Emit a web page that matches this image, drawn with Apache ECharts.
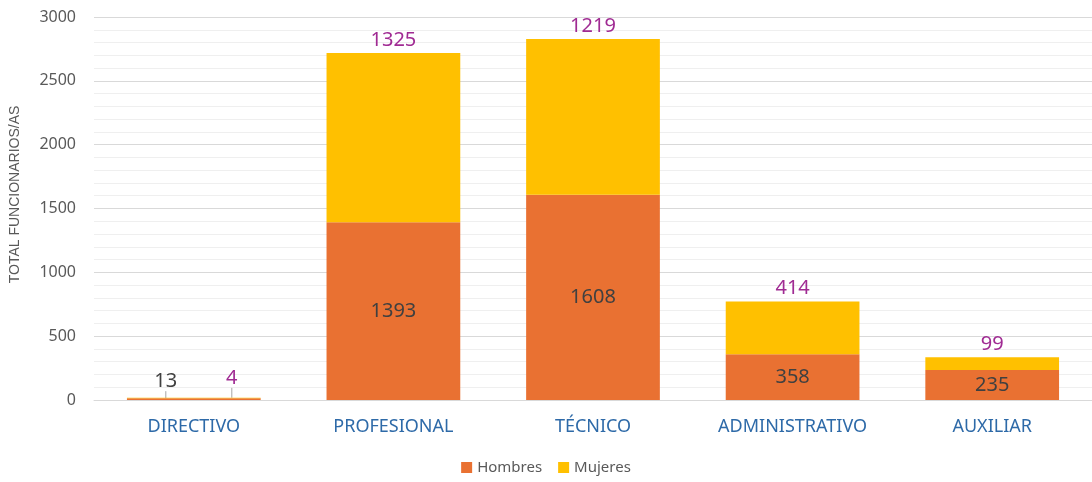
<!DOCTYPE html>
<html>
<head>
<meta charset="utf-8">
<script src="https://cdn.jsdelivr.net/npm/echarts@6/dist/echarts.min.js"></script>
<style>
  html, body { margin: 0; padding: 0; background: #fff; }
  #main { width: 1092px; height: 482px; }
</style>
</head>
<body>
<div id="main"></div>
<script>
const categories = ['DIRECTIVO', 'PROFESIONAL', 'TÉCNICO', 'ADMINISTRATIVO', 'AUXILIAR'];
const hombres = [13, 1393, 1608, 358, 235];
const mujeres = [4, 1325, 1219, 414, 99];
const yTicks = { min: 0, max: 3000, interval: 500 };

const font = '"Noto Sans", sans-serif';
const guide = { show: true, lineStyle: { color: '#a6a6a6', width: 1 } };

// the tiny DIRECTIVO bar gets its labels pulled out with a leader line
function withGuide(values) {
  return values.map(function (v, i) {
    return i === 0 ? { value: v, labelLine: guide } : v;
  });
}

let myChart = echarts.init(document.getElementById('main'));

let option = {
  color: ['#E97132', '#FFC000'],
  textStyle: { fontFamily: font },
  animation: false,
  grid: { left: 94, right: 0, top: 17, bottom: 82 },
  legend: {
    bottom: 2,
    left: 'center',
    itemWidth: 11,
    itemHeight: 11,
    itemGap: 16,
    icon: 'rect',
    textStyle: { color: '#595959', fontSize: 15, fontFamily: font },
    data: ['Hombres', 'Mujeres']
  },
  xAxis: {
    type: 'category',
    data: categories,
    axisLine: { lineStyle: { color: '#d9d9d9' } },
    axisTick: { show: false },
    axisLabel: { color: '#2E6AA8', fontSize: 18, margin: 18, fontFamily: font }
  },
  yAxis: {
    type: 'value',
    min: yTicks.min,
    max: yTicks.max,
    interval: yTicks.interval,
    name: 'TOTAL FUNCIONARIOS/AS',
    nameLocation: 'middle',
    nameRotate: 90,
    nameGap: 72,
    nameTextStyle: {
      color: '#595959', fontSize: 14, fontFamily: '"Liberation Sans", sans-serif',
      padding: [0, 0, 0, 28]
    },
    axisLabel: {
      color: '#595959', fontSize: 16, margin: 18, fontFamily: font,
      formatter: function (v) { return String(v); }
    },
    splitLine: { lineStyle: { color: '#d9d9d9' } },
    minorTick: { show: false, splitNumber: 5 },
    minorSplitLine: { show: true, lineStyle: { color: '#efefef' } }
  },
  series: [
    {
      name: 'Hombres',
      type: 'bar',
      stack: 'total',
      barWidth: '67%',
      data: withGuide(hombres),
      label: {
        show: true,
        position: 'inside',
        color: '#404040',
        fontSize: 20,
        fontFamily: font
      },
      labelLine: { show: false },
      labelLayout: function (p) {
        if (p.dataIndex === 0) return { dx: -28, dy: -18 };
        return {};
      }
    },
    {
      name: 'Mujeres',
      type: 'bar',
      stack: 'total',
      barWidth: '67%',
      data: withGuide(mujeres),
      label: {
        show: true,
        position: 'top',
        distance: 3,
        color: '#A02B93',
        fontSize: 20,
        fontFamily: font
      },
      labelLine: { show: false },
      labelLayout: function (p) {
        if (p.dataIndex === 0) return { dx: 38, dy: -7 };
        return {};
      }
    }
  ]
};

myChart.setOption(option);
</script>
</body>
</html>
